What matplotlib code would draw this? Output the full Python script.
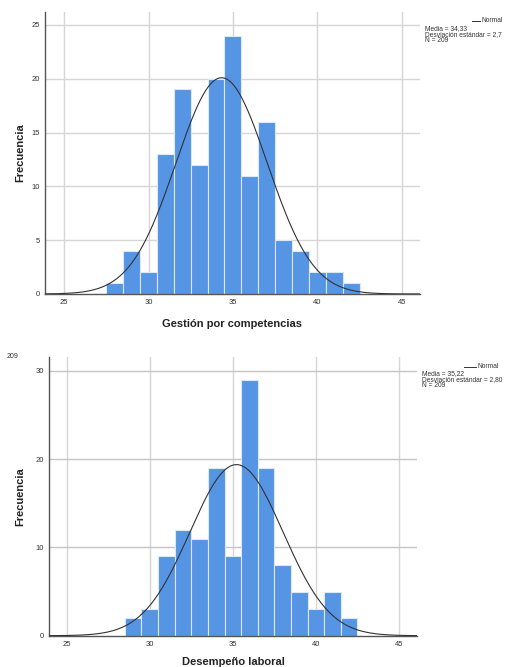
import numpy as np
import matplotlib
matplotlib.use("Agg")
import matplotlib.pyplot as plt

# Data
top_values = [28, 29, 30, 31, 32, 33, 34, 35, 36, 37, 38, 39, 40, 41, 42]
top_counts = [1, 4, 2, 13, 19, 12, 20, 24, 11, 16, 5, 4, 2, 2, 1]
top_mean, top_std = 34.33, 2.7
top_label = "Gestión por competencias"
top_stats = ["Media = 34,33", "Desviación estándar = 2,7", "N = 209"]

bot_values = [29, 30, 31, 32, 33, 34, 35, 36, 37, 38, 39, 40, 41, 42]
bot_counts = [2, 3, 9, 12, 11, 19, 9, 29, 19, 8, 5, 3, 5, 2]
bot_mean, bot_std = 35.22, 2.80
bot_label = "Desempeño laboral"
bot_stats = ["Media = 35,22", "Desviación estándar = 2,80", "N = 209"]

x_ticks = [25, 30, 35, 40, 45]
top_yticks = [0, 5, 10, 15, 20, 25]
bot_yticks = [0, 10, 20, 30]

BAR = "#5694e4"
W, H = 508, 667
fig = plt.figure(figsize=(W / 100, H / 100), dpi=100)
plt.rcParams['font.family'] = ['Liberation Sans', 'DejaVu Sans']


def draw(rect, values, counts, mean, std, xlim, ylim, yticks, xlabel, grid_h,
         ypad, xpad):
    ax = fig.add_axes(rect)
    ax.set_xlim(*xlim)
    ax.set_ylim(*ylim)
    for t in x_ticks:
        ax.axvline(t, color="#d6d6d6", lw=1.0, zorder=0)
    for t in yticks[1:]:
        ax.axhline(t, color=grid_h, lw=1.0, zorder=0)
    ax.bar(values, counts, width=1.0, color=BAR, edgecolor="#dbe8f8",
           linewidth=0.8, zorder=2)
    xs = np.linspace(xlim[0], xlim[1], 400)
    n = sum(counts)
    ys = n / (std * np.sqrt(2 * np.pi)) * np.exp(-0.5 * ((xs - mean) / std) ** 2)
    ax.plot(xs, ys, color="#333333", lw=0.8, zorder=3)
    ax.set_xticks(x_ticks)
    ax.set_yticks(yticks)
    ax.tick_params(length=0, labelsize=5.5, colors="#333333", pad=3.5)
    for s in ["top", "right"]:
        ax.spines[s].set_visible(False)
    for s in ["left", "bottom"]:
        ax.spines[s].set_color("#555555")
        ax.spines[s].set_linewidth(1.0)
    ax.set_ylabel("Frecuencia", fontsize=8, fontweight="bold", color="#222222", labelpad=ypad)
    ax.set_xlabel(xlabel, fontsize=8, fontweight="bold", color="#222222", labelpad=xpad)
    return ax


ax1 = draw([45 / W, 1 - 294 / H, 375 / W, 282 / H], top_values, top_counts,
           top_mean, top_std, (23.87, 46.08), (0, 26.2), top_yticks, top_label,
           "#d6d6d6", 4.3, 9.5)
ax2 = draw([48.7 / W, 1 - 635.7 / H, 368.6 / W, 279 / H], bot_values, bot_counts,
           bot_mean, bot_std, (23.92, 46.1), (0, 31.6), bot_yticks, bot_label,
           "#c4c4c4", 7, 7)

# legends / stats text
def stats(x_line0, x_line1, y_line, x_text, y_text, lines):
    fig.add_artist(plt.Line2D([x_line0 / W, x_line1 / W], [1 - y_line / H] * 2,
                              color="#333333", lw=0.7))
    fig.text((x_line1 + 1) / W, 1 - y_line / H, "Normal", fontsize=4.8, va="center",
             color="#333333")
    for i, s in enumerate(lines):
        fig.text(x_text / W, 1 - (y_text + i * 6) / H, s, fontsize=4.8, va="center",
                 color="#333333")

stats(472, 480, 21, 424.7, 29, top_stats)
stats(464, 476, 367, 421.7, 373.5, bot_stats)

fig.text(7 / W, 1 - 357 / H, "209", fontsize=5, va="center", color="#333333")

fig.savefig("out.png", dpi=100)
